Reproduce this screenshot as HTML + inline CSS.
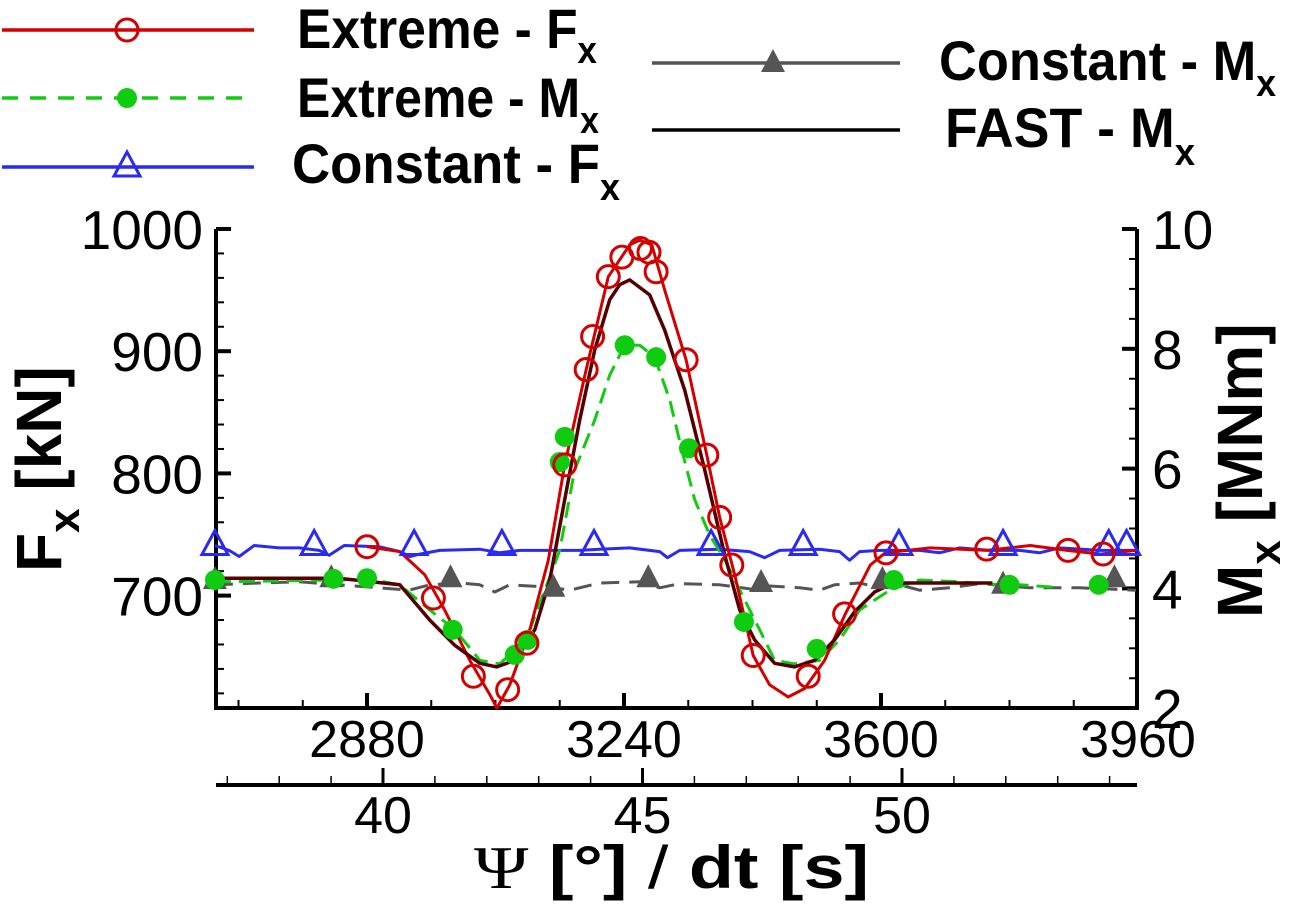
<!DOCTYPE html>
<html><head><meta charset="utf-8">
<style>
html,body{margin:0;padding:0;background:#fff;}
svg{display:block;font-family:"Liberation Sans",Arial,sans-serif;}
</style></head>
<body>
<svg id="chart" width="1304" height="915" viewBox="0 0 1304 915">
<g id="legend"></g>
<g id="axes"></g>
<g id="series"></g>
</svg>
<script>
// ---- data (x in dt units, Fx in kN, Mx in MNm) ----
const extremeFxX = [2880,2926,2961,2989,3024,3052,3062,3080,3108,3134,3157,3187,3218,3248,3262,3279,3297,3327,3356,3374,3395,3421,3444,3470,3493,3521,3550,3585,3606,3669,3748,3809,3861,3907,3957];
const extremeFxY = [740,736,717,688,647,619,608,627,672,729,807,885,961,987,991,987,950,893,815,764,717,651,627,617,624,647,685,725,735,739,737,741,737,734,737];
const extremeFxMkX = [2880,2973,3029,3077,3104,3157,3187,3196,3218,3237,3263,3275,3285,3327,3356,3374,3391,3421,3498,3549,3607,3748,3862,3911];
const extremeFxMkY = [740,698,634,623,661,807,885,912,961,977,984,981,965,893,815,764,725,651,634,685,735,738,737,734];

const extremeMxX = [2667,2840,2880,2926,2968,3003,3038,3066,3087,3108,3129,3150,3171,3199,3220,3241,3262,3283,3304,3321,3339,3360,3381,3409,3430,3451,3479,3514,3542,3570,3612,3654,3710,3766,3794,3843];
const extremeMxY = [4.11,4.14,4.16,4.06,3.64,3.31,2.80,2.74,2.97,3.31,3.97,4.64,5.98,6.81,7.56,8.06,8.06,7.86,7.15,6.31,5.48,4.89,4.48,3.81,3.31,2.80,2.74,2.80,3.14,3.64,3.97,4.14,4.11,4.06,4.06,4.02];
const extremeMxMkX = [2667,2833,2880,3000,3087,3105,3150,3157,3241,3285,3331,3408,3510,3618,3780,3905];
const extremeMxMkY = [4.14,4.16,4.17,3.31,2.89,3.14,6.11,6.53,8.06,7.86,6.34,3.44,2.99,4.14,4.06,4.06];

const fastMxX = [2667,2840,2926,2968,3003,3038,3062,3087,3115,3136,3157,3178,3199,3220,3234,3248,3276,3297,3325,3353,3381,3402,3423,3451,3479,3507,3535,3563,3591,3612,3633,3756];
const fastMxY = [4.17,4.17,4.06,3.47,3.05,2.75,2.69,2.80,3.31,4.14,5.48,6.81,7.98,8.82,9.07,9.15,8.90,8.31,7.31,5.98,4.56,3.64,3.14,2.75,2.69,2.80,3.14,3.61,3.94,4.06,4.09,4.09];

const constFxX = [2667,2687,2701,2722,2757,2785,2813,2827,2848,2897,2926,2940,2954,2982,3038,3066,3094,3136,3178,3206,3248,3290,3301,3318,3374,3416,3437,3458,3514,3542,3556,3570,3598,3654,3682,3710,3752,3794,3822,3850,3907,3957];
const constFxY = [741,737,732,741,739,739,737,733,741,740,736,732,734,737,738,735,737,737,737,738,739,736,731,737,738,736,731,737,738,736,729,736,737,737,735,739,737,737,735,739,737,737];
const constFxMkX = [2667,2806,2946,3069,3198,3362,3491,3625,3771,3919,3944];
const constFxMkY = [741,741,741,741,741,741,741,741,741,741,741];

const constMxX = [2667,2729,2785,2841,2897,2939,2968,3010,3038,3059,3080,3136,3164,3206,3262,3290,3318,3374,3430,3444,3486,3514,3535,3570,3598,3626,3654,3696,3738,3808,3878,3957];
const constMxY = [4.06,4.09,4.11,4.06,4.01,3.97,4.06,4.09,4.06,3.94,4.06,4.02,3.97,4.09,4.11,4.01,4.08,4.06,3.97,4.04,4.01,3.97,4.06,4.09,4.01,4.06,3.97,4.01,4.08,4.01,4.01,3.97];
const constMxMkX = [2667,2830,2997,3141,3274,3432,3602,3771,3927];
const constMxMkY = [4.14,4.17,4.17,4.01,4.17,4.09,4.14,4.06,4.17];

const topTicks = [2880,3240,3600,3960];
const botTicks = [40,45,50];
const leftTicks = [700,800,900,1000];
const rightTicks = [2,4,6,8,10];

// ---- scales ----
const X0=216, X1=1137, Y0=229, Y1=708;
function sx(v){ return 367 + (v-2880)*(257/360); }
function sF(v){ return 229 + (1000-v)*1.222; }
function sM(v){ return 229 + (10-v)*59.9; }
function sT(v){ return 383 + (v-40)*51.9; }

const NS="http://www.w3.org/2000/svg";
function mk(tag, attrs, parent){
  const e=document.createElementNS(NS,tag);
  for(const k in attrs) e.setAttribute(k,attrs[k]);
  parent.appendChild(e); return e;
}
const axes=document.getElementById('axes');
const series=document.getElementById('series');
const legend=document.getElementById('legend');

let e;
e=mk('line',{x1:X0,y1:Y0,x2:X0,y2:Y1+2,stroke:'#000','stroke-width':4},axes);


e=mk('line',{x1:X1,y1:Y0,x2:X1,y2:Y1+2,stroke:'#000','stroke-width':4},axes);


e=mk('line',{x1:X0-2,y1:Y1,x2:X1+2,y2:Y1,stroke:'#000','stroke-width':4},axes);


e=mk('line',{x1:X0,y1:785,x2:X1,y2:785,stroke:'#000','stroke-width':4},axes);



for(let v=620; v<=1000; v+=20){
  const y=sF(v), maj=(v%100===0);
  e=mk('line',{x1:X0,y1:y,x2:X0+(maj?15:8),y2:y,stroke:'#000','stroke-width':maj?4:2},axes);
  
  
}
leftTicks.forEach(v=>{
  e=mk('text',{x:203,y:sF(v)+20,'font-size':55,'text-anchor':'end'},axes);
  e.textContent=v;
  
  
});
for(let v=2.5; v<=10; v+=0.5){
  const y=sM(v), maj=(v%2===0);
  e=mk('line',{x1:X1,y1:y,x2:X1-(maj?15:8),y2:y,stroke:'#000','stroke-width':maj?4:2},axes);
  
  
}
rightTicks.forEach(v=>{
  e=mk('text',{x:1152,y:sM(v)+20,'font-size':55},axes);
  e.textContent=v;
  
  
});
for(let v=2700; v<=3960; v+=90){
  const x=sx(v), maj=(v%360===0);
  if(x<X0||x>X1) continue;
  e=mk('line',{x1:x,y1:Y1,x2:x,y2:Y1-(maj?15:8),stroke:'#000','stroke-width':maj?4:2},axes);
  
  
}
topTicks.forEach(v=>{
  e=mk('text',{x:sx(v),y:757,'font-size':52,'text-anchor':'middle'},axes);
  e.textContent=v;
  
  
});
for(let v=37; v<=54; v+=1){
  const x=sT(v), maj=(v%5===0);
  if(x<X0||x>X1) continue;
  e=mk('line',{x1:x,y1:785,x2:x,y2:maj?768:776,stroke:'#000','stroke-width':maj?3:1.5},axes);
  
  
}
botTicks.forEach(v=>{
  e=mk('text',{x:sT(v),y:833,'font-size':52,'text-anchor':'middle'},axes);
  e.textContent=v;
  
  
});

function poly(xs,ys,yf,color,w,dash,name){
  const pts=xs.map((x,i)=>sx(x).toFixed(1)+','+yf(ys[i]).toFixed(1)).join(' ');
  const a={points:pts,fill:'none',stroke:color,'stroke-width':w,'stroke-linejoin':'round'};
  if(dash) a['stroke-dasharray']=dash;
  const p=mk('polyline',a,series);
  
  
}
function marker(kind,cx,cy,color,parent){
  let m;
  if(kind==='oc') m=mk('circle',{cx:cx,cy:cy,r:11,fill:'none',stroke:color,'stroke-width':3},parent);
  else if(kind==='fc') m=mk('circle',{cx:cx,cy:cy,r:10,fill:color},parent);
  else if(kind==='ot') m=mk('polygon',{points:`${cx},${cy-15} ${cx-13},${cy+9} ${cx+13},${cy+9}`,fill:'none',stroke:color,'stroke-width':3},parent);
  else m=mk('polygon',{points:`${cx},${cy-14} ${cx-12},${cy+9} ${cx+12},${cy+9}`,fill:color},parent);
  return m;
}
function marks(xs,ys,yf,kind,color,name){
  xs.forEach((x,i)=>{
    const m=marker(kind,sx(x),yf(ys[i]),color,series);
    
    
  });
}
poly(constMxX,constMxY,sM,'#555',3,'18,10','constant-mx-line');
poly(constFxX,constFxY,sF,'#2a2af0',3,null,'constant-fx-line');
poly(extremeMxX,extremeMxY,sM,'#10cc10',3,'16,8','extreme-mx-line');
poly(extremeFxX,extremeFxY,sF,'#d40000',3,null,'extreme-fx-line');
poly(fastMxX,fastMxY,sM,'#550000',3.5,null,'fast-mx-line');
marks(constMxMkX,constMxMkY,sM,'ft','#555','constant-mx-marker');
marks(constFxMkX,constFxMkY,sF,'ot','#2a2af0','constant-fx-marker');
marks(extremeMxMkX,extremeMxMkY,sM,'fc','#10cc10','extreme-mx-marker');
marks(extremeFxMkX,extremeFxMkY,sF,'oc','#d40000','extreme-fx-marker');

function legEntry(name,x1,x2,y,mx,color,dash,kind,label,tx,ty,sty,tw){
  const g=mk('g',{},legend);
  
  
  const a={x1:x1,y1:y,x2:x2,y2:y,stroke:color,'stroke-width':3.5};
  if(dash) a['stroke-dasharray']=dash;
  mk('line',a,g);
  if(kind) marker(kind,mx,y,color,g);
  const t=mk('text',{x:tx,y:ty,'font-size':56,'font-weight':'bold',textLength:tw,lengthAdjust:'spacingAndGlyphs'},g);
  t.textContent=label;
  const s=mk('tspan',{'font-size':38,dy:sty},t);
  s.textContent='x';
}
legEntry('legend-extreme-fx',2,254,30,127,'#d40000',null,'oc','Extreme - F',297,48,15,300);
legEntry('legend-extreme-mx',2,246,98,127,'#10cc10','16,12','fc','Extreme - M',297,117,16,302);
legEntry('legend-constant-fx',2,254,167,127,'#2a2af0',null,'ot','Constant - F',292,183,17,328);
legEntry('legend-constant-mx',652,900,63,773,'#555',null,'ft','Constant - M',939,80,16,337);
legEntry('legend-fast-mx',652,900,130,0,'#000',null,null,'FAST - M',945,147,18,250);

let t=mk('text',{transform:'translate(61,572) rotate(-90)','font-size':64,'font-weight':'bold'},axes);


t.innerHTML='F<tspan font-size="44" dy="18">x</tspan><tspan dy="-18"> [kN]</tspan>';
t=mk('text',{transform:'translate(1262,618) rotate(-90)','font-size':64,'font-weight':'bold'},axes);


t.innerHTML='M<tspan font-size="44" dy="18">x</tspan><tspan dy="-18"> [MNm]</tspan>';
t=mk('text',{x:474,y:888,'font-size':60,'font-weight':'bold'},axes);


t.innerHTML='<tspan font-family="Liberation Serif, serif" font-weight="normal">Ψ</tspan> [°] <tspan font-weight="normal">/</tspan>  dt [s]';
t.setAttribute('textLength','395');
t.setAttribute('lengthAdjust','spacingAndGlyphs');
</script>
</body></html>
